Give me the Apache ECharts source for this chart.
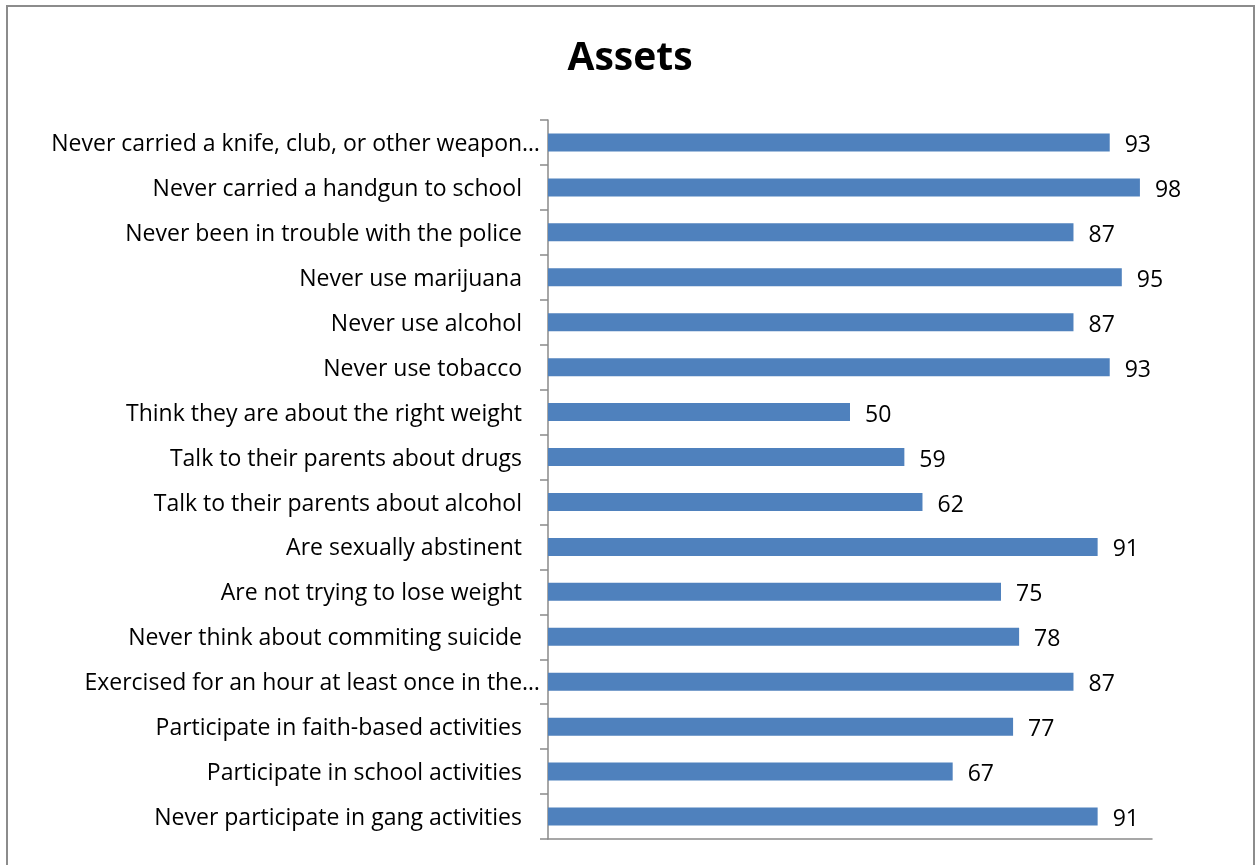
<!DOCTYPE html>
<html>
<head>
<meta charset="utf-8">
<script src="https://cdn.jsdelivr.net/npm/echarts@6/dist/echarts.min.js"></script>
<style>
html,body{margin:0;padding:0;background:#fff;}
#chart{width:1256px;height:865px;}
</style>
</head>
<body>
<div id="chart"></div>
<script>
const titleText = 'Assets';
const categories = [
  'Never carried a knife, club, or other weapon…',
  'Never carried a handgun to school',
  'Never been in trouble with the police',
  'Never use marijuana',
  'Never use alcohol',
  'Never use tobacco',
  'Think they are about the right weight',
  'Talk to their parents about drugs',
  'Talk to their parents about alcohol',
  'Are sexually abstinent',
  'Are not trying to lose weight',
  'Never think about commiting suicide',
  'Exercised for an hour at least once in the…',
  'Participate in faith-based activities',
  'Participate in school activities',
  'Never participate in gang activities'
];
const values = [93, 98, 87, 95, 87, 93, 50, 59, 62, 91, 75, 78, 87, 77, 67, 91];
const xMax = 100;

const FONT = 'Open Sans';
const chart = echarts.init(document.getElementById('chart'));
chart.setOption({
  animation: false,
  backgroundColor: '#ffffff',
  title: {
    text: titleText,
    left: 625,
    textAlign: 'center',
    top: 34,
    textStyle: {fontFamily: FONT, fontWeight: 'bold', fontSize: 39, color: '#000'}
  },
  graphic: [{
    type: 'polyline',
    shape: {points: [[7, 870], [7, 6], [1254, 6], [1254, 870]]},
    style: {stroke: '#8c8c8c', lineWidth: 2, fill: null},
    silent: true
  }],
  grid: {left: 548, top: 120, width: 604, bottom: 26, containLabel: false},
  xAxis: {
    type: 'value', min: 0, max: xMax,
    axisLine: {show: true, lineStyle: {color: '#8a8a8a', width: 1.5}},
    axisTick: {show: false}, axisLabel: {show: false}, splitLine: {show: false}
  },
  yAxis: {
    type: 'category', inverse: true, data: categories,
    axisLine: {show: true, lineStyle: {color: '#8a8a8a', width: 1.5}},
    axisTick: {show: true, length: 8, lineStyle: {color: '#8a8a8a', width: 1.5}},
    axisLabel: {
      margin: 8,
      formatter: function (v) {
        return v.endsWith('…') ? '{t|' + v + '}' : '{n|' + v + '}';
      },
      rich: {
        t: {fontFamily: FONT, fontSize: 23, color: '#000', padding: [4, 0, 0, 0]},
        n: {fontFamily: FONT, fontSize: 23, color: '#000', padding: [4, 18, 0, 0]}
      }
    }
  },
  series: [{
    type: 'bar', data: values, barWidth: 18,
    itemStyle: {color: '#4F81BD'},
    label: {show: true, position: 'right', distance: 15, offset: [0, 3], fontFamily: FONT, fontSize: 23, color: '#000'}
  }]
});
</script>
</body>
</html>
